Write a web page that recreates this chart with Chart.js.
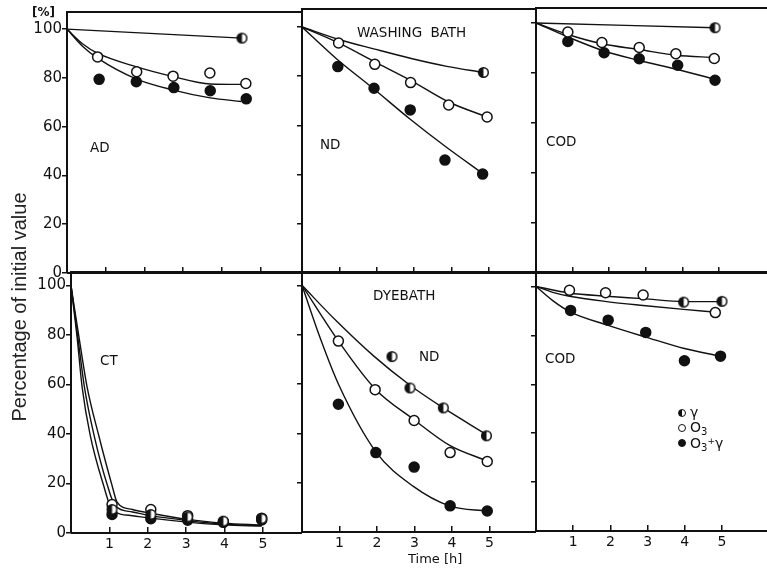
<!DOCTYPE html>
<html>
<head>
<meta charset="utf-8">
<title>Percentage of initial value</title>
<script src="https://cdn.jsdelivr.net/npm/chart.js@4.4.1/dist/chart.umd.min.js"></script>
<style>
  html, body { margin: 0; padding: 0; background: #fff; }
  #fig { position: relative; width: 767px; height: 571px; overflow: hidden; font-family: "DejaVu Sans", sans-serif; color: #111; }
  #fig canvas { position: absolute; }
  .t { position: absolute; white-space: nowrap; line-height: 1; font-size: 13.5px; }
  .dot { position: absolute; width: 6px; height: 6px; border: 1.5px solid #111; border-radius: 50%; background: #fff; }
  sub { font-size: 10px; vertical-align: -3px; line-height: 0; }
</style>
</head>
<body>
<div id="fig">
  <div class="t" style="left:32px;top:6px;font-size:12px;font-weight:bold">[%]</div>
  <div class="t" style="left:-131px;top:297px;width:300px;text-align:center;font-family:'Liberation Sans',sans-serif;font-size:20px;color:#222;transform:rotate(-90deg)">Percentage of initial value</div>
  <div class="t" style="left:408px;top:552px;font-size:13px">Time [h]</div>

  <div class="t" style="left:90px;top:141px">AD</div>
  <div class="t" style="left:357px;top:26px;word-spacing:4px">WASHING BATH</div>
  <div class="t" style="left:320px;top:138px">ND</div>
  <div class="t" style="left:546px;top:135px">COD</div>
  <div class="t" style="left:100px;top:354px">CT</div>
  <div class="t" style="left:373px;top:289px">DYEBATH</div>
  <div class="t" style="left:419px;top:350px">ND</div>
  <div class="t" style="left:545px;top:352px">COD</div>

  <div class="dot" style="left:678px;top:409px;background:linear-gradient(to right,#111 50%,#fff 50%)"></div>
  <div class="dot" style="left:678px;top:424px"></div>
  <div class="dot" style="left:678px;top:439px;background:#111"></div>
  <div class="t" style="left:690px;top:405px;font-size:14px">γ</div>
  <div class="t" style="left:690px;top:420px;font-size:14px">O<sub>3</sub></div>
  <div class="t" style="left:690px;top:436px;font-size:14px">O<sub>3</sub><span style="font-size:9px;vertical-align:4px">+</span>γ</div>
</div>
<script>
// axis ticks
const xTicks = [1, 2, 3, 4, 5];
const yTicks = [0, 20, 40, 60, 80, 100];
const yTicksInner = [20, 40, 60, 80, 100];

// WASHING BATH - AD
const adGammaPts = [[4.52, 96.3]];
const adGammaFit = [[0, 100], [4.52, 96.3]];
const adO3Pts = [[0.79, 88.6], [1.8, 82.5], [2.74, 80.7], [3.69, 82], [4.62, 77.7]];
const adO3Fit = [[0, 100], [0.4, 94], [0.8, 90], [1.8, 84.5], [2.75, 80.5], [3.7, 77.5], [4.62, 77.3]];
const adBothPts = [[0.83, 79.4], [1.79, 78.4], [2.76, 76], [3.7, 74.7], [4.63, 71.4]];
const adBothFit = [[0, 100], [0.4, 93], [0.8, 88], [1.8, 79.5], [2.75, 75], [3.7, 71.8], [4.5, 70.3]];

// WASHING BATH - ND
const wnGammaPts = [[4.86, 81.5]];
const wnGammaFit = [[0, 100], [0.97, 95], [1.95, 91], [2.9, 87.3], [3.88, 84], [4.86, 81.5]];
const wnO3Pts = [[0.98, 93.5], [1.95, 84.8], [2.91, 77.4], [3.93, 68.3], [4.96, 63.4]];
const wnO3Fit = [[0, 100], [0.98, 93.5], [1.95, 85.8], [2.91, 78.3], [3.93, 69.5], [4.96, 63.4]];
const wnBothPts = [[0.96, 83.9], [1.93, 75.1], [2.9, 66.3], [3.83, 45.9], [4.84, 40.2]];
const wnBothFit = [[0, 100], [0.93, 87], [1.91, 75], [2.9, 62.5], [3.88, 51], [4.84, 40.5]];

// WASHING BATH - COD
const wcGammaPts = [[4.89, 98.1]];
const wcGammaFit = [[0, 100], [4.89, 98.1]];
const wcO3Pts = [[0.87, 96.4], [1.8, 92.2], [2.82, 90.2], [3.82, 87.7], [4.87, 85.8]];
const wcO3Fit = [[0, 100], [0.87, 95.4], [1.8, 91.7], [2.82, 89.4], [3.82, 87.1], [4.87, 86.2]];
const wcBothPts = [[0.87, 92.6], [1.86, 88.1], [2.82, 85.7], [3.87, 83.1], [4.89, 77.1]];
const wcBothFit = [[0, 100], [0.87, 94.4], [1.86, 88.8], [2.82, 85], [3.87, 81.4], [4.89, 77.5]];

// DYEBATH - CT
const ctGammaPts = [[1.07, 9.5], [2.08, 7.5], [3.04, 6.5], [3.97, 4.8], [4.97, 5.8]];
const ctO3Pts = [[1.07, 11.5], [2.08, 9.5], [3.04, 7], [3.97, 4.5], [4.97, 6]];
const ctBothPts = [[1.07, 7.5], [2.08, 5.8], [3.04, 5.2], [3.97, 4.3], [4.97, 5.3]];
const ctFitA = [[0, 100], [0.21, 79], [0.42, 59], [0.72, 39.6], [1.07, 19.2], [1.2, 12.5], [1.6, 9.5], [2.08, 8], [3.04, 5.5], [3.97, 4], [4.97, 3.2]];
const ctFitB = [[0, 100], [0.18, 79], [0.35, 59], [0.6, 39.6], [0.95, 19.2], [1.15, 11], [1.6, 8.5], [2.08, 7], [3.04, 5], [3.97, 3.6], [4.97, 3]];
const ctFitC = [[0, 100], [0.16, 79], [0.29, 59], [0.5, 39.6], [0.85, 19.2], [1.07, 9.5], [1.6, 7], [2.08, 6], [3.04, 4.4], [3.97, 3.3], [4.97, 2.8]];

// DYEBATH - ND
const dnGammaPts = [[2.4, 71.1], [2.88, 58.4], [3.77, 50.3], [4.92, 39]];
const dnGammaFit = [[0, 100], [0.92, 85.5], [1.9, 71.5], [2.88, 59.5], [3.77, 50.3], [4.92, 39.5]];
const dnO3Pts = [[0.97, 77.4], [1.95, 57.7], [2.99, 45.2], [3.95, 32.2], [4.94, 28.6]];
const dnO3Fit = [[0, 100], [0.97, 77.4], [1.95, 58], [2.99, 45.5], [3.95, 35], [4.94, 28.8]];
const dnBothPts = [[0.97, 51.8], [1.97, 32.2], [2.99, 26.3], [3.95, 10.6], [4.94, 8.5]];
const dnBothFit = [[0, 100], [0.5, 78], [0.97, 60], [1.97, 32.5], [2.97, 18.5], [3.95, 10.5], [4.94, 8.5]];

// DYEBATH - COD
const dcGammaPts = [[3.97, 93.6], [5.0, 93.9]];
const dcGammaFit = [[0, 100], [0.9, 97.3], [1.9, 96], [2.88, 95], [3.97, 93.8], [5.0, 93.8]];
const dcO3Pts = [[0.9, 98.4], [1.87, 97.4], [2.88, 96.5], [4.82, 89.3]];
const dcO3Fit = [[0, 100], [0.45, 97.6], [0.9, 96], [1.9, 93.8], [2.88, 92.2], [3.97, 90.6], [4.82, 89.5]];
const dcBothPts = [[0.93, 90.2], [1.94, 86.2], [2.95, 81.2], [3.99, 69.6], [4.96, 71.5]];
const dcBothFit = [[0, 100], [0.45, 94.2], [0.93, 89.5], [1.94, 84.1], [2.95, 79.3], [3.99, 74.6], [4.96, 71.5]];

Chart.defaults.font.family = '"DejaVu Sans", sans-serif';
Chart.defaults.color = '#111';

var fig = document.getElementById('fig');
var xy = a => a.map(p => ({ x: p[0], y: p[1] }));

// half filled marker (left half black)
function makeHalfDot() {
  var c = document.createElement('canvas');
  c.width = c.height = 13;
  var g = c.getContext('2d');
  g.beginPath(); g.arc(6.5, 6.5, 4.8, 0, Math.PI * 2); g.fillStyle = '#fff'; g.fill();
  g.beginPath(); g.arc(6.5, 6.5, 4.8, Math.PI / 2, Math.PI * 1.5); g.fillStyle = '#111'; g.fill();
  g.beginPath(); g.arc(6.5, 6.5, 4.8, 0, Math.PI * 2); g.lineWidth = 1.5; g.strokeStyle = '#111'; g.stroke();
  return c;
}
var halfDot = makeHalfDot();

function marks(data, kind) {
  var ds = { data: xy(data), showLine: false, pointRadius: 5, pointBorderColor: '#111', pointBorderWidth: 1.5 };
  if (kind === 'half') ds.pointStyle = halfDot;
  if (kind === 'open') ds.pointBackgroundColor = '#fff';
  if (kind === 'full') ds.pointBackgroundColor = '#111';
  return ds;
}

function fit(data) {
  return { data: xy(data), showLine: true, borderColor: '#111', borderWidth: 1.4, pointRadius: 0, cubicInterpolationMode: 'monotone', fill: false };
}

// plot frame drawn round the chart area
var framePlugin = {
  id: 'frame',
  afterDatasetsDraw(chart, args, opts) {
    var ctx = chart.ctx, a = chart.chartArea;
    ctx.save();
    ctx.strokeStyle = '#111';
    ctx.lineWidth = 2;
    ctx.beginPath();
    ctx.moveTo(a.left, a.bottom); ctx.lineTo(a.left, a.top); ctx.lineTo(a.right, a.top);
    ctx.moveTo(a.left, a.bottom); ctx.lineTo(a.right, a.bottom);
    if (opts.right) { ctx.moveTo(a.right, a.top); ctx.lineTo(a.right, a.bottom); }
    ctx.stroke();
    ctx.restore();
  }
};
Chart.register(framePlugin);

function panel(box, xMax, yMax, showY, showX, right, datasets) {
  var lm = showY ? box.left : 10, tm = 10, rm = 8, bm = showX ? 34 : 10;
  var cv = document.createElement('canvas');
  cv.width = box.width + lm + rm;
  cv.height = box.height + tm + bm;
  cv.style.left = (box.left - lm) + 'px';
  cv.style.top = (box.top - tm) + 'px';
  fig.insertBefore(cv, fig.firstChild);
  return new Chart(cv, {
    type: 'scatter',
    data: { datasets: datasets },
    options: {
      responsive: false,
      animation: false,
      layout: { padding: { top: tm, right: rm, left: 0, bottom: 0 } },
      plugins: { legend: { display: false }, tooltip: { enabled: false }, frame: { right: right } },
      scales: {
        x: {
          type: 'linear', min: 0, max: xMax,
          border: { display: false },
          grid: { drawOnChartArea: false, drawTicks: true, tickLength: -6, color: '#111', lineWidth: 1.5 },
          ticks: { display: showX, padding: 9, font: { size: 14 }, color: '#111' },
          afterBuildTicks: s => { s.ticks = xTicks.map(v => ({ value: v })); },
          afterFit: s => { s.height = bm; }
        },
        y: {
          type: 'linear', min: 0, max: yMax,
          border: { display: false },
          grid: { drawOnChartArea: false, drawTicks: true, tickLength: 5, color: '#111', lineWidth: 1.5 },
          ticks: { display: showY, padding: 0, font: { size: 15 }, color: '#111' },
          afterBuildTicks: s => { s.ticks = (showY ? yTicks : yTicksInner).map(v => ({ value: v })); },
          afterFit: s => { s.width = lm; }
        }
      }
    }
  });
}

// top row: washing bath
panel({ left: 67, top: 12, width: 235, height: 261 }, 6.07, 107, true, false, true, [
  marks(adGammaPts, 'half'), marks(adO3Pts, 'open'), marks(adBothPts, 'full'),
  fit(adGammaFit), fit(adO3Fit), fit(adBothFit)
]);
panel({ left: 302, top: 9, width: 234, height: 264 }, 6.27, 107.3, false, false, true, [
  marks(wnGammaPts, 'half'), marks(wnO3Pts, 'open'), marks(wnBothPts, 'full'),
  fit(wnGammaFit), fit(wnO3Fit), fit(wnBothFit)
]);
panel({ left: 536, top: 8, width: 231, height: 265 }, 6.31, 106, false, false, false, [
  marks(wcGammaPts, 'half'), marks(wcO3Pts, 'open'), marks(wcBothPts, 'full'),
  fit(wcGammaFit), fit(wcO3Fit), fit(wcBothFit)
]);

// bottom row: dyebath
panel({ left: 71, top: 272, width: 231, height: 261 }, 6.02, 105.5, true, true, true, [
  marks(ctGammaPts, 'half'), marks(ctO3Pts, 'open'), marks(ctBothPts, 'full'),
  fit(ctFitA), fit(ctFitB), fit(ctFitC)
]);
panel({ left: 302, top: 272, width: 234, height: 260 }, 6.24, 105.4, false, true, true, [
  marks(dnGammaPts, 'half'), marks(dnO3Pts, 'open'), marks(dnBothPts, 'full'),
  fit(dnGammaFit), fit(dnO3Fit), fit(dnBothFit)
]);
panel({ left: 536, top: 272, width: 231, height: 259 }, 6.21, 105.9, false, true, false, [
  marks(dcGammaPts, 'half'), marks(dcO3Pts, 'open'), marks(dcBothPts, 'full'),
  fit(dcGammaFit), fit(dcO3Fit), fit(dcBothFit)
]);
</script>
</body>
</html>
